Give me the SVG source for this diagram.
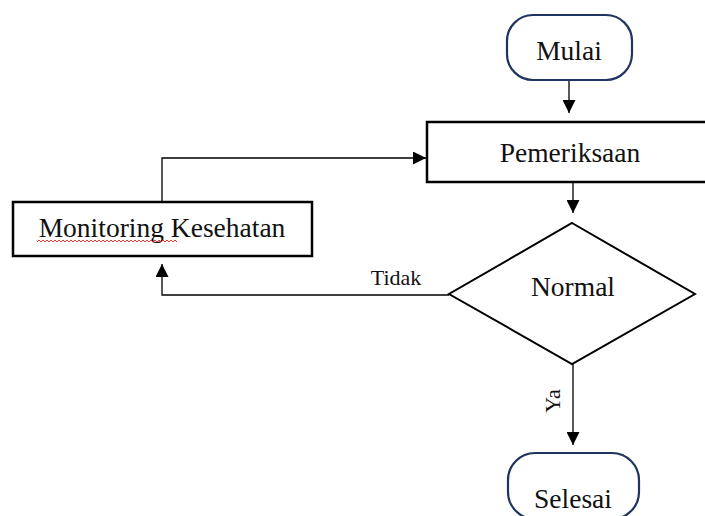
<svg xmlns="http://www.w3.org/2000/svg" width="705" height="516" viewBox="0 0 705 516">
<style>
.t{font-family:"Liberation Serif","Times New Roman",serif;fill:#111;text-anchor:middle}
.big{font-size:27.5px}
.small{font-size:22px}
.term{fill:#fff;stroke:#1f3560;stroke-width:2.2}
.box{fill:#fff;stroke:#000;stroke-width:2.5}
.ln{fill:none;stroke:#000;stroke-width:1.3}
</style>
<defs>
<marker id="ah" viewBox="0 0 10 10" refX="10" refY="5" markerWidth="13" markerHeight="13" markerUnits="userSpaceOnUse" orient="auto">
<path d="M0,0 L10,5 L0,10 Z" fill="#000"/>
</marker>
</defs>
<rect width="705" height="516" fill="#fff"/>
<g id="connectors">
<line class="ln" x1="569" y1="80" x2="569" y2="113" marker-end="url(#ah)"/>
<line class="ln" x1="573" y1="182" x2="573" y2="213" marker-end="url(#ah)"/>
<polyline class="ln" points="449,295 162,295 162,264" marker-end="url(#ah)"/>
<polyline class="ln" points="162,202 162,158 426,158" marker-end="url(#ah)"/>
<line class="ln" x1="573" y1="364" x2="573" y2="445" marker-end="url(#ah)"/>
<text class="t small" x="396" y="285">Tidak</text>
<text class="t small" transform="translate(560,401) rotate(-90)">Ya</text>
</g>
<g id="mulai">
<rect class="term" x="507" y="15" width="125" height="65" rx="26" ry="26"/>
<text class="t big" x="569" y="60">Mulai</text>
</g>
<g id="pemeriksaan">
<rect class="box" x="427" y="122" width="290" height="60"/>
<text class="t big" x="570" y="162">Pemeriksaan</text>
</g>
<g id="normal">
<polygon class="box" points="572,223 695,294 572,364 449,294" style="stroke-width:2"/>
<text class="t big" x="573" y="296">Normal</text>
</g>
<g id="monitoring">
<rect class="box" x="13" y="202" width="299" height="54"/>
<text class="t big" x="162" y="237">Monitoring Kesehatan</text>
<path d="M37,242 l2,-2 l2,2 l2,-2 l2,2 l2,-2 l2,2 l2,-2 l2,2 l2,-2 l2,2 l2,-2 l2,2 l2,-2 l2,2 l2,-2 l2,2 l2,-2 l2,2 l2,-2 l2,2 l2,-2 l2,2 l2,-2 l2,2 l2,-2 l2,2 l2,-2 l2,2 l2,-2 l2,2 l2,-2 l2,2 l2,-2 l2,2 l2,-2 l2,2 l2,-2 l2,2 l2,-2 l2,2 l2,-2 l2,2 l2,-2 l2,2 l2,-2 l2,2 l2,-2 l2,2 l2,-2 l2,2 l2,-2 l2,2 l2,-2 l2,2 l2,-2 l2,2 l2,-2 l2,2 l2,-2 l2,2 l2,-2 l2,2 l2,-2 l2,2 l2,-2 l2,2 l2,-2 l2,2 l2,-2 l2,2" fill="none" stroke="#e02020" stroke-width="0.9"/>
</g>
<g id="selesai">
<rect class="term" x="508" y="453" width="131" height="66" rx="27" ry="27"/>
<text class="t big" x="573" y="508">Selesai</text>
</g>
</svg>
